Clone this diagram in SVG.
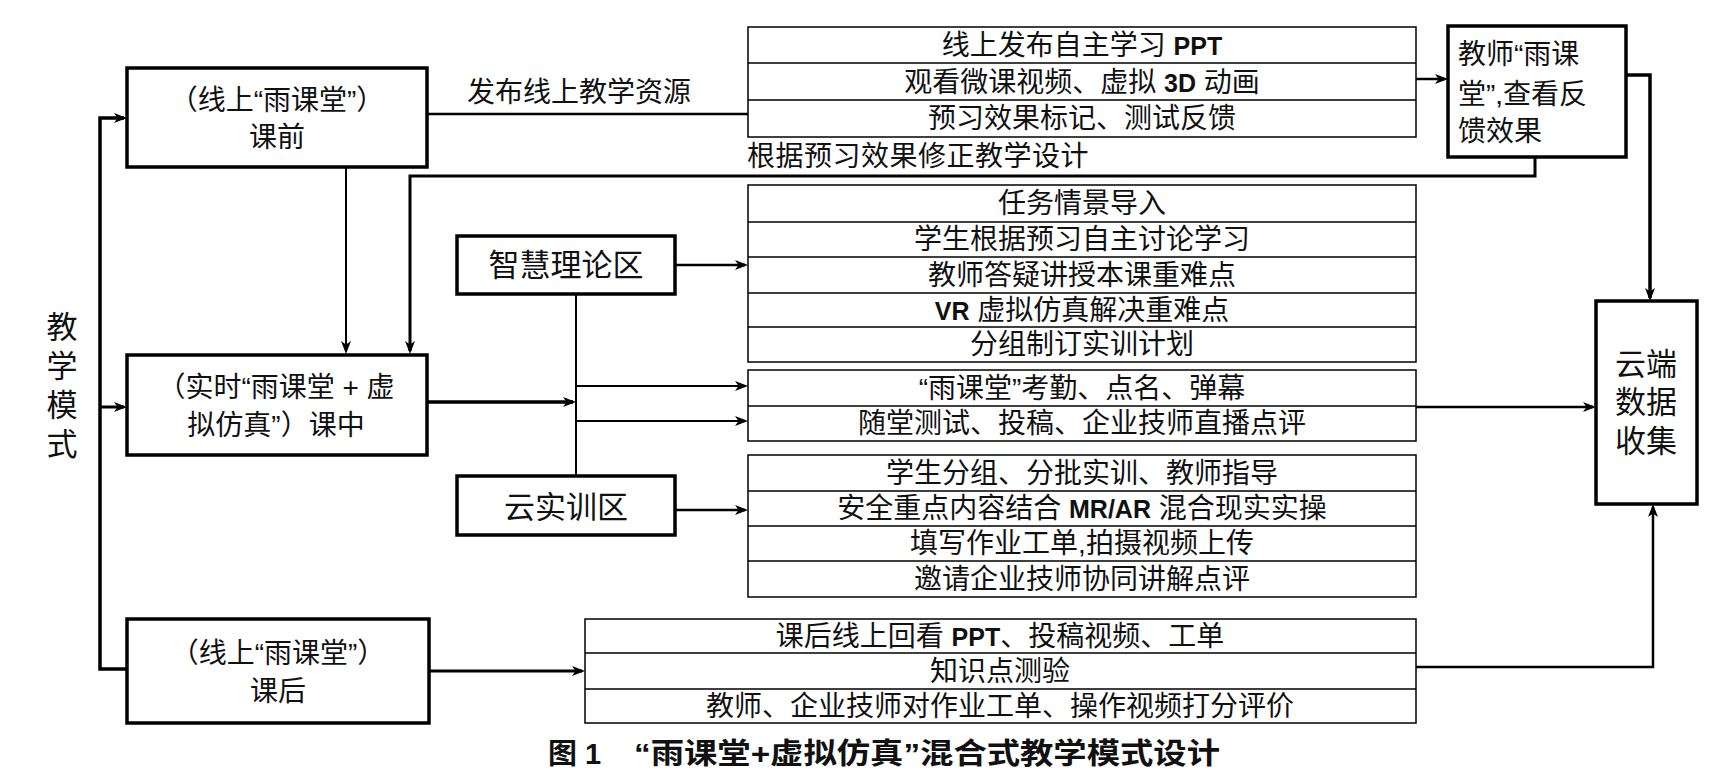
<svg xmlns="http://www.w3.org/2000/svg" width="1728" height="781" viewBox="0 0 1728 781">
<style>
text{font-family:"Liberation Sans","Noto Sans CJK SC",sans-serif;fill:#111;font-size:28px}
.c{text-anchor:middle}
.big{font-size:31px}
.lat{font-weight:bold;font-size:25px}
.node{fill:#fff;stroke:#000;stroke-width:3.5}
.list{fill:#fff;stroke:#000;stroke-width:1.5}
.div{stroke:#000;stroke-width:1.5}
.con path{fill:none;stroke:#000}
.cap{font-weight:bold;font-size:29px}
</style>
<defs>
<marker id="arr" markerWidth="13" markerHeight="11" refX="10" refY="5.5" orient="auto" markerUnits="userSpaceOnUse">
<path d="M0,0.5 L13,5.5 L0,10.5 L3.5,5.5 z" fill="#000"/>
</marker>
</defs>
<rect width="1728" height="781" fill="#fff"/>

<g class="con">
<path d="M127,669 H100 V118 H124" stroke-width="3.5" marker-end="url(#arr)"/>
<path d="M100,407 H124" stroke-width="3" marker-end="url(#arr)"/>
<path d="M427,114 H748" stroke-width="2.5"/>
<path d="M1416,79 H1445" stroke-width="2.5" marker-end="url(#arr)"/>
<path d="M1626,75 H1650 V298" stroke-width="3.5" marker-end="url(#arr)"/>
<path d="M1535,157 V176 H410 V351" stroke-width="3" marker-end="url(#arr)"/>
<path d="M346,167 V351" stroke-width="2" marker-end="url(#arr)"/>
<path d="M427,402 H573" stroke-width="3.5" marker-end="url(#arr)"/>
<path d="M576,294 V476" stroke-width="2"/>
<path d="M576,386 H745" stroke-width="2" marker-end="url(#arr)"/>
<path d="M576,421 H745" stroke-width="2" marker-end="url(#arr)"/>
<path d="M675,265 H745" stroke-width="2.5" marker-end="url(#arr)"/>
<path d="M675,510 H745" stroke-width="2.5" marker-end="url(#arr)"/>
<path d="M1416,407 H1593" stroke-width="2.5" marker-end="url(#arr)"/>
<path d="M429,671 H582" stroke-width="3" marker-end="url(#arr)"/>
<path d="M1416,667 H1653 V507" stroke-width="2.5" marker-end="url(#arr)"/>
<text x="579" y="102" class="c">发布线上教学资源</text>
<text x="747" y="166" letter-spacing="0.5">根据预习效果修正教学设计</text>
</g>

<g id="mode-label">
<text class="c big"><tspan x="62" y="338">教</tspan><tspan x="62" y="377">学</tspan><tspan x="62" y="416">模</tspan><tspan x="62" y="455">式</tspan></text>
</g>

<g id="pre-class">
<rect x="127" y="68" width="300" height="99" class="node"/>
<text class="c"><tspan x="277" y="110">（线上“雨课堂”）</tspan><tspan x="277" y="147">课前</tspan></text>
</g>

<g id="in-class">
<rect x="127" y="355" width="300" height="100" class="node"/>
<text class="c"><tspan x="276" y="397">（实时“雨课堂 + 虚</tspan><tspan x="276" y="435">拟仿真”）课中</tspan></text>
</g>

<g id="post-class">
<rect x="127" y="619" width="302" height="104" class="node"/>
<text class="c"><tspan x="278" y="663">（线上“雨课堂”）</tspan><tspan x="278" y="701">课后</tspan></text>
</g>

<g id="teacher-feedback">
<rect x="1448" y="26" width="178" height="131" class="node"/>
<text font-size="30"><tspan x="1458" y="64">教师“雨课</tspan><tspan x="1458" y="104">堂”,查看反</tspan><tspan x="1458" y="141">馈效果</tspan></text>
</g>

<g id="cloud-data">
<rect x="1596" y="301" width="101" height="203" class="node"/>
<text class="c big"><tspan x="1646" y="375">云端</tspan><tspan x="1646" y="413">数据</tspan><tspan x="1646" y="452">收集</tspan></text>
</g>

<g id="smart-theory">
<rect x="457" y="236" width="218" height="58" class="node"/>
<text x="566" y="276" class="c big">智慧理论区</text>
</g>

<g id="cloud-training">
<rect x="457" y="476" width="218" height="59" class="node"/>
<text x="566" y="518" class="c big">云实训区</text>
</g>

<g id="list-pre">
<rect x="748" y="27" width="668" height="110" class="list"/>
<path d="M748,63 H1416 M748,100 H1416" class="div"/>
<text x="1082" y="55" class="c">线上发布自主学习 <tspan class="lat">PPT</tspan></text>
<text x="1082" y="92" class="c">观看微课视频、虚拟 <tspan class="lat">3D</tspan> 动画</text>
<text x="1082" y="128" class="c">预习效果标记、测试反馈</text>
</g>

<g id="list-theory">
<rect x="748" y="185" width="668" height="177" class="list"/>
<path d="M748,222 H1416 M748,257 H1416 M748,293 H1416 M748,327 H1416" class="div"/>
<text x="1082" y="213" class="c">任务情景导入</text>
<text x="1082" y="249" class="c">学生根据预习自主讨论学习</text>
<text x="1082" y="285" class="c">教师答疑讲授本课重难点</text>
<text x="1082" y="320" class="c"><tspan class="lat">VR</tspan> 虚拟仿真解决重难点</text>
<text x="1082" y="354" class="c">分组制订实训计划</text>
</g>

<g id="list-live">
<rect x="748" y="370" width="668" height="71" class="list"/>
<path d="M748,406 H1416" class="div"/>
<text x="1082" y="398" class="c">“雨课堂”考勤、点名、弹幕</text>
<text x="1082" y="433" class="c">随堂测试、投稿、企业技师直播点评</text>
</g>

<g id="list-training">
<rect x="748" y="455" width="668" height="142" class="list"/>
<path d="M748,491 H1416 M748,526 H1416 M748,561 H1416" class="div"/>
<text x="1082" y="483" class="c">学生分组、分批实训、教师指导</text>
<text x="1082" y="518" class="c">安全重点内容结合 <tspan class="lat">MR/AR</tspan> 混合现实实操</text>
<text x="1082" y="553" class="c">填写作业工单,拍摄视频上传</text>
<text x="1082" y="589" class="c">邀请企业技师协同讲解点评</text>
</g>

<g id="list-post">
<rect x="585" y="619" width="831" height="104" class="list"/>
<path d="M585,653 H1416 M585,689 H1416" class="div"/>
<text x="1000" y="646" class="c">课后线上回看 <tspan class="lat">PPT</tspan>、投稿视频、工单</text>
<text x="1000" y="681" class="c">知识点测验</text>
<text x="1000" y="716" class="c">教师、企业技师对作业工单、操作视频打分评价</text>
</g>

<g id="caption">
<text y="764" class="cap"><tspan x="548">图 1</tspan><tspan x="634" textLength="586" lengthAdjust="spacingAndGlyphs">“雨课堂+虚拟仿真”混合式教学模式设计</tspan></text>
</g>
</svg>
